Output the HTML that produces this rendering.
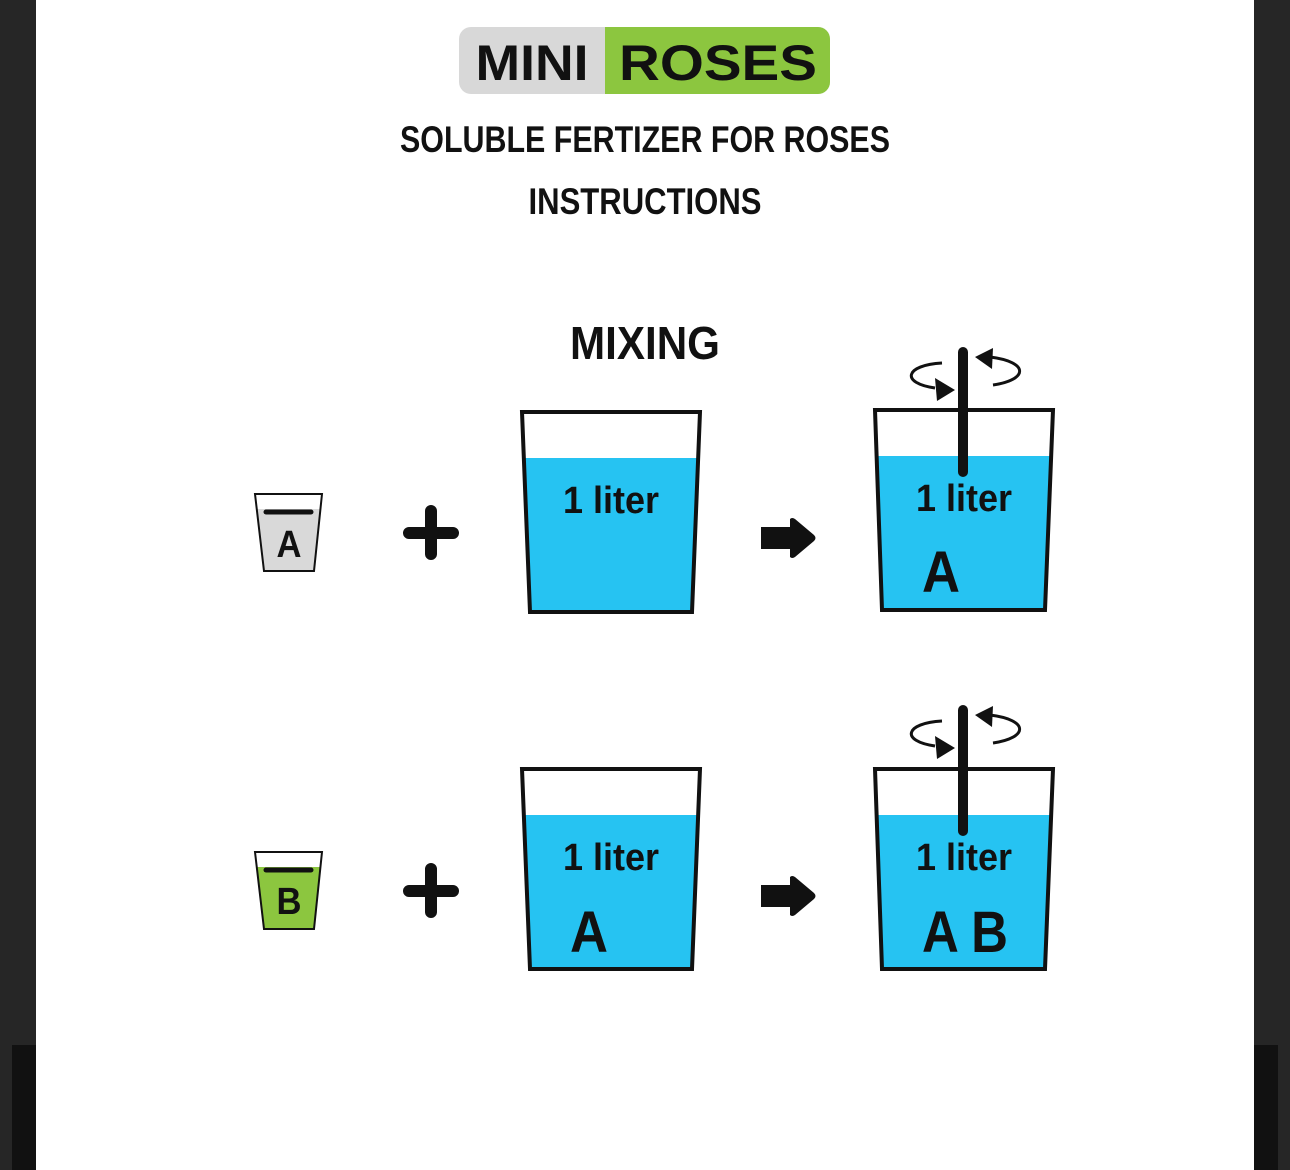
<!DOCTYPE html>
<html><head><meta charset="utf-8"><style>
html,body{margin:0;padding:0;background:#262626;}
body{width:1290px;height:1170px;overflow:hidden;position:relative;}
svg{position:absolute;left:0;top:0;}
text{font-family:"Liberation Sans",sans-serif;fill:#111;}
</style></head><body>
<svg width="1290" height="1170" viewBox="0 0 1290 1170">
<rect x="0" y="0" width="1290" height="1170" fill="#262626"/>
<rect x="12" y="1045" width="24" height="125" fill="#111"/>
<rect x="1254" y="1045" width="24" height="125" fill="#111"/>
<rect x="36" y="0" width="1218" height="1170" fill="#fff"/>

<!-- logo -->
<rect x="459" y="27" width="371" height="67" rx="12" fill="#d8d8d8"/>
<path d="M605 27 H818 A12 12 0 0 1 830 39 V82 A12 12 0 0 1 818 94 H605 Z" fill="#8cc63f"/>
<text x="532" y="80" font-size="50" font-weight="bold" text-anchor="middle" textLength="113" lengthAdjust="spacingAndGlyphs">MINI</text>
<text x="718" y="80" font-size="50" font-weight="bold" text-anchor="middle" textLength="198" lengthAdjust="spacingAndGlyphs">ROSES</text>

<text x="645" y="152" font-size="37" text-anchor="middle" textLength="490" lengthAdjust="spacingAndGlyphs" font-weight="bold">SOLUBLE FERTIZER FOR ROSES</text>
<text x="645" y="214" font-size="37" text-anchor="middle" textLength="233" lengthAdjust="spacingAndGlyphs" font-weight="bold">INSTRUCTIONS</text>
<text x="645" y="359" font-size="46" text-anchor="middle" textLength="150" lengthAdjust="spacingAndGlyphs" font-weight="bold">MIXING</text>

<defs>
<g id="plus"><path d="M409 533 H453 M431 511 V554" stroke="#111" stroke-width="12" stroke-linecap="round"/></g>
<g id="arrow"><path d="M761 527 H790 V519 Q792 517 795 519 L814 535 Q817 538 814 541 L795 557 Q792 559 790 557 V549 H761 Z" fill="#111"/></g>
<g id="stir">
<path d="M942 363 C905 365 900 383 935 388" fill="none" stroke="#111" stroke-width="3"/>
<path d="M935 378 L955 390 L937 401 Z" fill="#111"/>
<path d="M990 357 C1030 362 1028 380 993 385" fill="none" stroke="#111" stroke-width="3"/>
<path d="M993 348 L975 357 L992 369 Z" fill="#111"/>
<path d="M963 352 V472" stroke="#111" stroke-width="10" stroke-linecap="round"/>
</g>
</defs>

<!-- row 1 -->
<path d="M255 494 H322 L314 571 H264 Z" fill="#fff"/>
<path d="M256.6 509 H320.4 L314 571 H264 Z" fill="#d9d9d9"/>
<path d="M255 494 H322 L314 571 H264 Z" fill="none" stroke="#111" stroke-width="2"/>
<path d="M266 512 H311" stroke="#111" stroke-width="5" stroke-linecap="round"/>
<text x="289" y="557" font-size="38" font-weight="bold" text-anchor="middle" textLength="25" lengthAdjust="spacingAndGlyphs">A</text>
<use href="#plus"/>
<path d="M524.1 458 H697.9 L691 611 H531 Z" fill="#26c3f2"/>
<path d="M522 412 H700 L692 612 H530 Z" fill="none" stroke="#111" stroke-width="4"/>
<text x="611" y="513" font-size="38" text-anchor="middle" textLength="96" lengthAdjust="spacingAndGlyphs" font-weight="bold">1 liter</text>
<use href="#arrow"/>
<path d="M877.1 456 H1050.9 L1044 609 H883 Z" fill="#26c3f2"/>
<path d="M875 410 H1053 L1045 610 H882 Z" fill="none" stroke="#111" stroke-width="4"/>
<use href="#stir"/>
<text x="964" y="511" font-size="38" text-anchor="middle" textLength="96" lengthAdjust="spacingAndGlyphs" font-weight="bold">1 liter</text>
<text x="941" y="592" font-size="58" text-anchor="middle" textLength="38" lengthAdjust="spacingAndGlyphs" font-weight="bold">A</text>

<!-- row 2 -->
<g transform="translate(0,358)">
<path d="M255 494 H322 L314 571 H264 Z" fill="#fff"/>
<path d="M256.6 509 H320.4 L314 571 H264 Z" fill="#8cc63f"/>
<path d="M255 494 H322 L314 571 H264 Z" fill="none" stroke="#111" stroke-width="2"/>
<path d="M266 512 H311" stroke="#111" stroke-width="5" stroke-linecap="round"/>
<text x="289" y="556" font-size="38" font-weight="bold" text-anchor="middle" textLength="25" lengthAdjust="spacingAndGlyphs">B</text>
<use href="#plus"/>
<use href="#arrow"/>
<use href="#stir"/>
</g>
<path d="M524.1 815 H697.9 L691 968 H531 Z" fill="#26c3f2"/>
<path d="M522 769 H700 L692 969 H530 Z" fill="none" stroke="#111" stroke-width="4"/>
<text x="611" y="870" font-size="38" text-anchor="middle" textLength="96" lengthAdjust="spacingAndGlyphs" font-weight="bold">1 liter</text>
<text x="589" y="952" font-size="58" text-anchor="middle" textLength="38" lengthAdjust="spacingAndGlyphs" font-weight="bold">A</text>
<path d="M877.1 815 H1050.9 L1044 968 H883 Z" fill="#26c3f2"/>
<path d="M875 769 H1053 L1045 969 H882 Z" fill="none" stroke="#111" stroke-width="4"/>
<path d="M963 712 V831" stroke="#111" stroke-width="10" stroke-linecap="round"/>
<text x="964" y="870" font-size="38" text-anchor="middle" textLength="96" lengthAdjust="spacingAndGlyphs" font-weight="bold">1 liter</text>
<text x="965" y="952" font-size="58" text-anchor="middle" textLength="86" lengthAdjust="spacingAndGlyphs" font-weight="bold">A B</text>
</svg>
</body></html>
